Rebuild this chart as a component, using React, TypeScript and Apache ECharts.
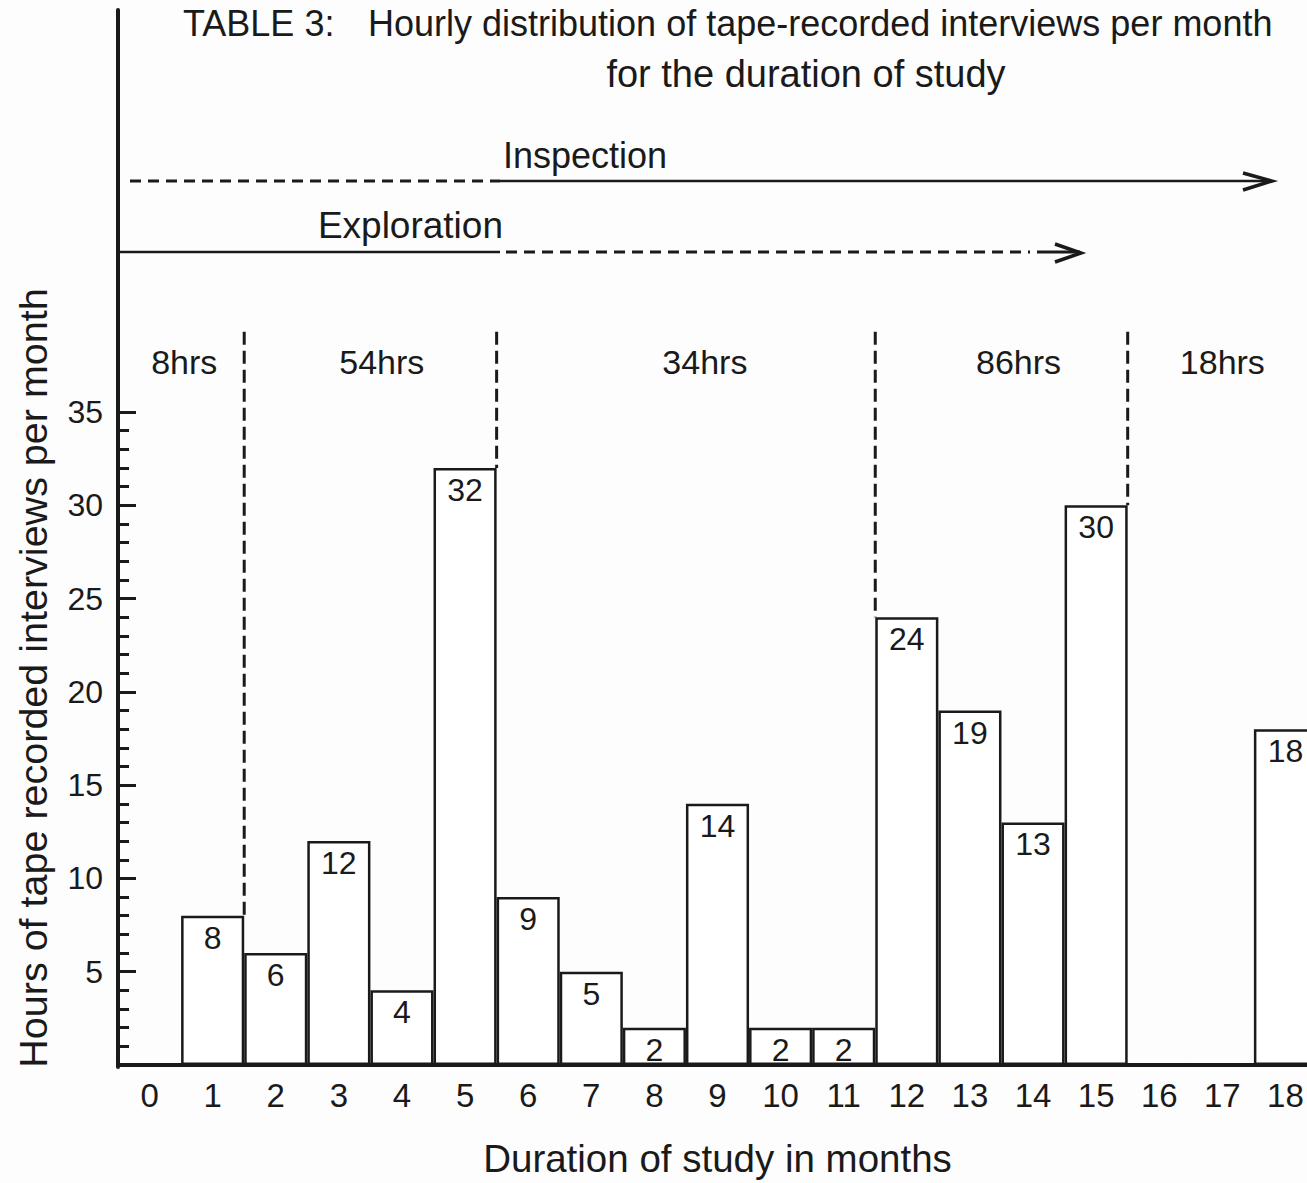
import React, { useEffect, useRef } from "react";
import * as echarts from "echarts";

// ---- data ----
const months = ["0", "1", "2", "3", "4", "5", "6", "7", "8", "9", "10", "11", "12", "13", "14", "15", "16", "17", "18"];
const hoursPerMonth = [0, 8, 6, 12, 4, 32, 9, 5, 2, 14, 2, 2, 24, 19, 13, 30, 0, 0, 18];
const periodStart = [0, 2, 6, 12, 16];
const periodEnd = [1, 5, 11, 15, 18];
const periodLabels = ["8hrs", "54hrs", "34hrs", "86hrs", "18hrs"];

const titleLine1a = "TABLE 3:";
const titleLine1b = "Hourly distribution of tape-recorded interviews per month";
const titleLine2 = "for the duration of study";
const yName = "Hours of tape recorded interviews per month";
const xName = "Duration of study in months";

// ---- layout constants ----
const FONT = "Liberation Sans, Arial, sans-serif";
const INK = "#1a1a1a";
const SEP_TOP_VALUE = 39.3;
const PERIOD_LABEL_VALUE = 37.7;
const PERIOD_NUDGE = [0.05, 0.18, 0.3, 0.27, 0];

export default function App() {
  const ref = useRef<HTMLDivElement>(null);

  useEffect(() => {
    if (!ref.current) return;
    const chart = echarts.init(ref.current, undefined, { renderer: "svg" });

    const sepData = periodEnd.slice(0, -1).map((k) => [k, Math.max(hoursPerMonth[k], hoursPerMonth[k + 1])]);
    const periodData = periodStart.map((s, i) => [s, periodEnd[i], i]);

    const option: any = {
      animation: false,
      backgroundColor: "#fdfdfd",
      textStyle: { fontFamily: FONT, color: INK },
      grid: [
        { left: 118, top: 412, width: 1199, height: 655 },
        { left: 118, top: 10, width: 1199, height: 1057 },
      ],
      xAxis: [
        {
          type: "category",
          gridIndex: 0,
          data: months,
          boundaryGap: true,
          axisLine: { show: true, lineStyle: { color: INK, width: 4 } },
          axisTick: { show: false },
          axisLabel: { interval: 0, fontSize: 33, margin: 14, color: INK, fontFamily: FONT },
          name: xName,
          nameLocation: "middle",
          nameGap: 74,
          nameTextStyle: { fontSize: 38.5, color: INK, fontFamily: FONT },
          splitLine: { show: false },
        },
        { type: "category", gridIndex: 1, data: months, show: false },
      ],
      yAxis: [
        {
          type: "value",
          gridIndex: 0,
          min: 0,
          max: 35,
          interval: 5,
          axisLine: { show: true, lineStyle: { color: INK, width: 4 } },
          axisTick: { show: true, inside: true, length: 18, lineStyle: { color: INK, width: 3 } },
          minorTick: { show: true, splitNumber: 5, length: 11, lineStyle: { color: INK, width: 3 } },
          axisLabel: {
            fontSize: 32,
            margin: 15,
            color: INK,
            fontFamily: FONT,
            formatter: (v: number) => (v === 0 ? "" : String(v)),
          },
          splitLine: { show: false },
          minorSplitLine: { show: false },
        },
        {
          type: "value",
          gridIndex: 1,
          min: 0,
          max: 1,
          axisLine: { show: true, lineStyle: { color: INK, width: 4 } },
          axisTick: { show: false },
          axisLabel: { show: false },
          splitLine: { show: false },
        },
      ],
      series: [
        {
          type: "bar",
          xAxisIndex: 0,
          yAxisIndex: 0,
          data: hoursPerMonth,
          barCategoryGap: "0%",
          itemStyle: { color: "#ffffff", borderColor: INK, borderWidth: 2.5 },
          label: {
            show: true,
            position: "insideTop",
            distance: 6,
            fontSize: 32,
            color: INK,
            fontFamily: FONT,
            formatter: (p: any) => (p.value === 0 ? "" : String(p.value)),
          },
          z: 2,
        },
        {
          type: "custom",
          xAxisIndex: 0,
          yAxisIndex: 0,
          data: sepData,
          clip: false,
          z: 3,
          renderItem: (params: any, api: any) => {
            const k = api.value(0);
            const low = api.value(1);
            const bw = api.size([1, 0])[0];
            const pLow = api.coord([k, low]);
            const pTop = api.coord([k, SEP_TOP_VALUE]);
            const x = pLow[0] + bw / 2;
            return {
              type: "line",
              shape: { x1: x, y1: pTop[1], x2: x, y2: pLow[1] },
              style: { stroke: INK, lineWidth: 3, lineDash: [13, 6], fill: null },
            };
          },
        },
        {
          type: "custom",
          xAxisIndex: 0,
          yAxisIndex: 0,
          data: periodData,
          clip: false,
          z: 3,
          renderItem: (params: any, api: any) => {
            const s = api.value(0);
            const e = api.value(1);
            const i = api.value(2);
            const bw = api.size([1, 0])[0];
            const p0 = api.coord([s, PERIOD_LABEL_VALUE]);
            const p1 = api.coord([e, PERIOD_LABEL_VALUE]);
            const cx = (p0[0] + p1[0]) / 2 + PERIOD_NUDGE[i] * bw;
            return {
              type: "text",
              x: cx,
              y: p0[1],
              style: {
                text: periodLabels[i],
                fontSize: 34,
                fontFamily: FONT,
                fill: INK,
                align: "center",
                verticalAlign: "middle",
              },
            };
          },
        },
      ],
      graphic: [
        {
          type: "text",
          x: 183,
          y: 23,
          style: { text: titleLine1a, fontSize: 36, fontFamily: FONT, fill: INK, align: "left", verticalAlign: "middle" },
        },
        {
          type: "text",
          x: 368,
          y: 23,
          style: { text: titleLine1b, fontSize: 36, fontFamily: FONT, fill: INK, align: "left", verticalAlign: "middle" },
        },
        {
          type: "text",
          x: 806,
          y: 74,
          style: { text: titleLine2, fontSize: 38, fontFamily: FONT, fill: INK, align: "center", verticalAlign: "middle" },
        },
        {
          type: "text",
          x: 503,
          y: 155,
          style: { text: "Inspection", fontSize: 36, fontFamily: FONT, fill: INK, align: "left", verticalAlign: "middle" },
        },
        {
          type: "text",
          x: 503,
          y: 225,
          style: { text: "Exploration", fontSize: 37, fontFamily: FONT, fill: INK, align: "right", verticalAlign: "middle" },
        },
        // Inspection arrow
        { type: "line", shape: { x1: 130, y1: 181, x2: 500, y2: 181 }, style: { stroke: INK, lineWidth: 3, lineDash: [11, 7] } },
        { type: "line", shape: { x1: 500, y1: 181, x2: 1271, y2: 181 }, style: { stroke: INK, lineWidth: 2.5 } },
        {
          type: "polyline",
          shape: { points: [[1243, 173], [1272, 181], [1243, 190]] },
          style: { stroke: INK, lineWidth: 3.5, fill: null },
        },
        // Exploration arrow
        { type: "line", shape: { x1: 118, y1: 252, x2: 500, y2: 252 }, style: { stroke: INK, lineWidth: 2.5 } },
        { type: "line", shape: { x1: 506, y1: 252, x2: 1030, y2: 252 }, style: { stroke: INK, lineWidth: 3, lineDash: [11, 7] } },
        { type: "line", shape: { x1: 1037, y1: 252, x2: 1080, y2: 252 }, style: { stroke: INK, lineWidth: 3 } },
        {
          type: "polyline",
          shape: { points: [[1055, 244], [1081, 253], [1055, 262]] },
          style: { stroke: INK, lineWidth: 3.5, fill: null },
        },
        // Y axis name
        {
          type: "text",
          x: 33,
          y: 678,
          rotation: Math.PI / 2,
          style: { text: yName, fontSize: 39.5, fontFamily: FONT, fill: INK, align: "center", verticalAlign: "middle" },
        },
      ],
    };

    chart.setOption(option);
    return () => chart.dispose();
  }, []);

  return (
    <div style={{ position: "fixed", left: 0, top: 0, width: 1307, height: 1183, overflow: "hidden" }}>
      <div ref={ref} style={{ width: 1330, height: 1183 }} />
    </div>
  );
}
